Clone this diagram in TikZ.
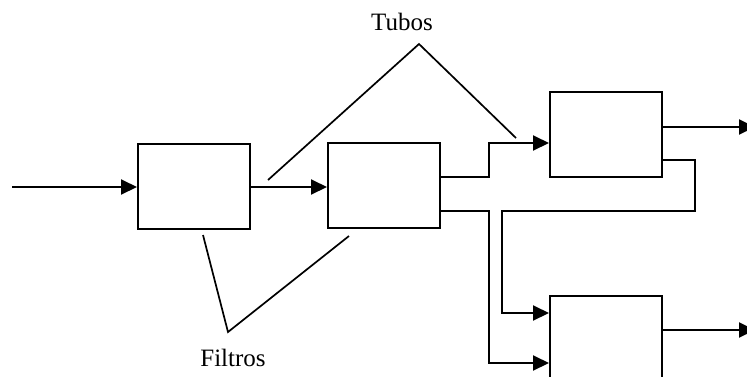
\documentclass[tikz,border=0pt]{standalone}
\usepackage{fontspec}
\setmainfont{Liberation Serif}
\usetikzlibrary{arrows.meta}
\tikzset{
  filtro/.style={rectangle, draw, line width=2pt, minimum width=112pt, minimum height=85pt, inner sep=0pt},
  tubo/.style={line width=2pt, -{Triangle[length=16pt, width=15pt]}},
  linha/.style={line width=1.7pt},
  rotulo/.style={font=\fontsize{25}{30}\selectfont}
}
\begin{document}
\begin{tikzpicture}[x=1pt, y=-1pt]
  \useasboundingbox (0,0) rectangle (747,376);
  \clip (0,0) rectangle (747,376);
  % filtros
  \node[filtro] (f1) at (194,186) {};
  \node[filtro] (f2) at (384,185) {};
  \node[filtro] (f3) at (606,134.5) {};
  \node[filtro] (f4) at (606,338.5) {};
  % entrada e saidas
  \coordinate (in) at (12,187);
  \coordinate (o3) at (755,127);
  \coordinate (o4) at (755,330);
  \draw[tubo] (in) -- (f1.west |- in);
  \draw[tubo] (f1.east |- in) -- (f2.west |- in);
  \draw[tubo] ([yshift=7.5pt]f3.east) -- (o3);
  \draw[tubo] ([yshift=8.5pt]f4.east) -- (o4);
  % tubos entre filtros
  \draw[tubo] ([yshift=8pt]f2.east) -- ++(48,0) |- ([yshift=-8.5pt]f3.west);
  \draw[tubo] ([yshift=-26pt]f2.east) -- ++(48,0) |- ([yshift=-24.5pt]f4.west);
  \draw[tubo] ([yshift=-25.5pt]f3.east) -- ++(32,0) |- (502,211) |- ([yshift=25.5pt]f4.west);
  % rotulos
  \node[rotulo] (tubos) at (402,22) {Tubos};
  \node[rotulo] (filtros) at (233,358) {Filtros};
  \coordinate (tapex) at (419,44);
  \coordinate (fapex) at (228,332);
  \draw[linha] (268,180) -- (tapex) -- (516,138);
  \draw[linha] (203,235) -- (fapex) -- (349,236);
\end{tikzpicture}
\end{document}
